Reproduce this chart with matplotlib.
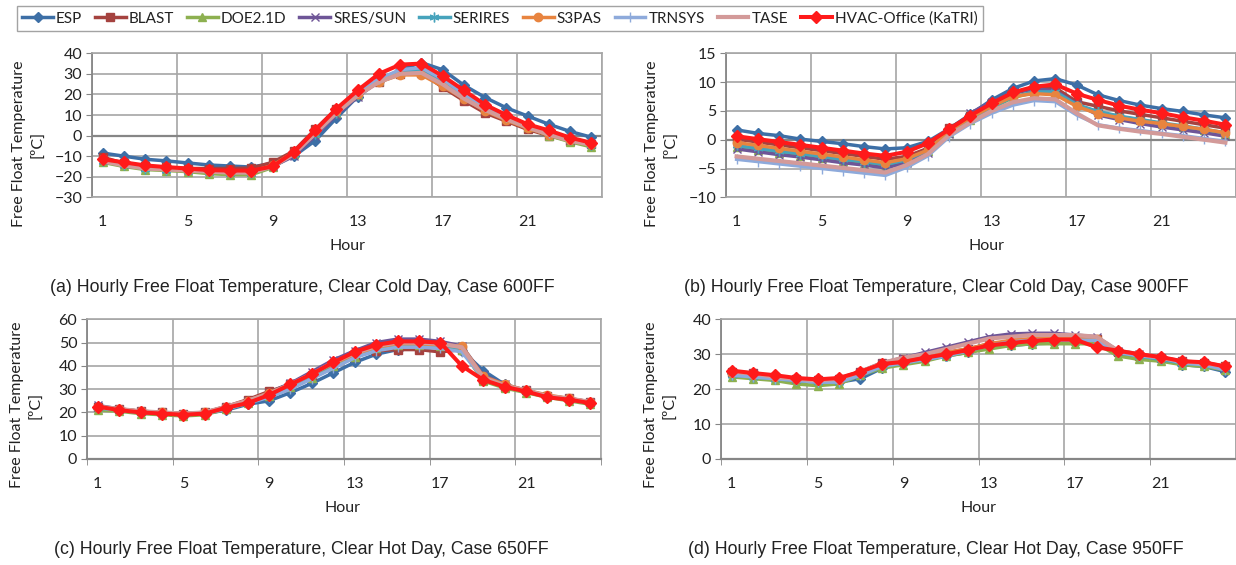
import matplotlib
matplotlib.use("Agg")
import matplotlib.pyplot as plt

plt.rcParams['font.family'] = ['Lato', 'DejaVu Sans']

hours = list(range(1, 25))
series_names = ["ESP", "BLAST", "DOE2.1D", "SRES/SUN", "SERIRES", "S3PAS",
                "TRNSYS", "TASE", "HVAC-Office (KaTRI)"]
xtick_labels = ["1", "5", "9", "13", "17", "21"]

# ---- Case 600FF (clear cold day) ----
a_esp = [-8.5, -10, -11.5, -12.3, -13.3, -14.3, -14.8, -15.3, -13.5, -10, -2.5, 8.5, 19, 26.5, 32, 35.5, 32, 24.5, 18.5, 13.5, 9.5, 5.5, 2, -0.8]
a_blast = [-10.5, -13.5, -15, -15.5, -16, -16, -16, -15.8, -13, -7.5, 3, 13, 20, 26, 30, 30.5, 23.5, 17, 11, 7, 3, 0, -2.5, -4]
a_doe = [-13, -15, -16.5, -17, -17.5, -18.5, -19, -19, -15.5, -9, 1.5, 11, 19.5, 26.5, 31, 33, 27, 20, 13.5, 8.5, 4, 0, -3, -5.5]
a_sres = [-12, -14, -15.5, -16, -16.5, -17, -17.5, -17.5, -15, -10, 0, 10, 19, 26.5, 31, 32, 27, 20, 13.5, 8.5, 4.5, 1, -2, -4]
a_serires = [-12.5, -14.5, -16, -16.5, -17, -17.5, -18, -18, -15, -9, 1, 11, 19.5, 26.5, 31, 32, 26.5, 19.5, 13, 8.5, 4.5, 1, -2, -4.5]
a_s3pas = [-11.5, -13.5, -15, -15.5, -16.5, -17, -17.5, -17.5, -14.5, -8, 2, 12, 20, 26, 29.5, 29.5, 24, 18, 12, 7.5, 3.5, 0.5, -2, -4]
a_trnsys = [-12, -14, -15.5, -16, -16.5, -17, -17.5, -17.5, -15, -8.5, 2, 12, 21, 27.5, 32, 33, 27.5, 20, 14, 9, 5, 1.5, -1.5, -3.5]
a_tase = [-12.5, -14.5, -16, -16.5, -17, -17.5, -18, -18, -15, -9, 1, 11, 19.5, 26, 30, 30.5, 25, 18, 12.5, 8, 4, 0.5, -2.5, -4.5]
a_hvac = [-11.5, -13, -14.5, -15.3, -16, -16.8, -17, -17, -15, -8, 2.5, 13, 22, 30, 34.5, 35, 29, 22, 15, 10, 5.5, 2.5, -1, -3.5]

# ---- Case 900FF (clear cold day) ----
b_esp = [1.7, 1.1, 0.7, 0.1, -0.3, -0.7, -1.2, -1.6, -1.4, -0.3, 1.9, 4.4, 6.9, 8.9, 10.2, 10.6, 9.5, 7.8, 6.8, 6.0, 5.4, 4.9, 4.3, 3.8]
b_blast = [0.1, -0.4, -0.9, -1.4, -1.9, -2.4, -2.9, -3.4, -2.9, -1.5, 2.0, 4.1, 6.3, 8.0, 8.9, 9.0, 6.6, 5.8, 5.0, 4.4, 3.8, 3.2, 2.6, 2.0]
b_doe = [-1.3, -1.8, -2.3, -2.8, -3.2, -3.7, -4.2, -4.7, -3.8, -2.0, 1.2, 3.5, 5.5, 7.3, 8.2, 8.2, 6.0, 4.8, 4.0, 3.4, 2.8, 2.2, 1.7, 1.0]
b_sres = [-1.6, -2.1, -2.6, -3.0, -3.5, -4.0, -4.4, -4.9, -4.0, -2.3, 1.0, 4.6, 6.6, 8.2, 8.8, 8.5, 6.2, 4.3, 3.5, 2.8, 2.2, 1.7, 1.2, 0.6]
b_serires = [-1.0, -1.5, -2.0, -2.4, -2.9, -3.4, -3.8, -4.3, -3.5, -1.8, 1.4, 3.6, 5.6, 7.4, 8.3, 8.3, 6.1, 4.9, 4.1, 3.5, 2.9, 2.4, 1.8, 1.2]
b_s3pas = [-0.5, -1.0, -1.5, -2.0, -2.5, -3.0, -3.5, -4.0, -3.3, -1.8, 1.5, 3.8, 5.8, 7.5, 8.0, 7.8, 5.8, 4.5, 3.8, 3.2, 2.8, 2.3, 1.8, 1.2]
b_trnsys = [-3.4, -3.8, -4.2, -4.6, -5.0, -5.4, -5.8, -6.2, -4.8, -2.8, 0.5, 2.8, 4.6, 6.0, 6.8, 6.6, 4.3, 2.6, 2.0, 1.6, 1.1, 0.7, 0.2, -0.3]
b_tase = [-2.9, -3.3, -3.7, -4.1, -4.5, -4.9, -5.3, -5.7, -4.4, -2.5, 0.8, 3.0, 5.0, 6.5, 7.2, 7.0, 4.6, 2.5, 1.9, 1.4, 1.0, 0.5, 0.0, -0.5]
b_hvac = [0.6, 0.1, -0.4, -0.9, -1.4, -1.9, -2.4, -2.8, -2.1, -0.6, 1.8, 4.2, 6.3, 8.2, 9.2, 9.6, 8.0, 6.9, 5.9, 5.2, 4.6, 3.9, 3.3, 2.6]

# ---- Case 650FF (clear hot day) ----
c_esp = [22, 21, 20, 19.5, 19, 19.5, 21, 23.5, 25, 28.5, 32.5, 37, 41.5, 45, 47, 48, 48, 46.5, 38, 32, 29, 27, 25.5, 24]
c_blast = [22.5, 21.5, 20.5, 20, 19.5, 20, 22.5, 25.5, 29, 32, 36, 40.5, 44, 46.5, 47, 47, 46, 47, 34, 31, 29.5, 27, 26, 24.5]
c_doe = [21, 20.5, 19.5, 19, 18.5, 19, 21.5, 24, 27, 31, 35, 40, 44, 47.5, 49, 49, 48.5, 47, 33.5, 30.5, 28.5, 26.5, 25, 23.5]
c_sres = [23, 21.5, 20.5, 20, 19.5, 20, 22.5, 25, 28.5, 32.5, 37.5, 42.5, 46.5, 50, 51.5, 51.5, 50.5, 48.5, 36, 32, 29.5, 27, 26, 24.5]
c_serires = [22, 21, 20, 19.5, 19, 19.5, 22, 24.5, 27.5, 31.5, 36, 41, 45, 48, 49.5, 49.5, 49, 47.5, 35, 31.5, 29, 27, 25.5, 24]
c_s3pas = [22.5, 21.5, 20.5, 20, 19.5, 20, 22.5, 25, 28.5, 32, 36.5, 41, 45, 48, 49.5, 49.5, 49, 48.5, 35.5, 32, 29.5, 27.5, 26, 24.5]
c_trnsys = [22, 21, 20, 19.5, 19, 19.5, 21.5, 24, 26.5, 30, 34.5, 39, 43.5, 46.5, 48, 48, 47.5, 46, 34.5, 31, 29, 27, 25.5, 24]
c_tase = [22.5, 21.5, 20.5, 20, 19.5, 20, 22.5, 25, 28, 32, 36.5, 41.5, 45.5, 48.5, 50, 50, 49.5, 48, 35, 31.5, 29.5, 27, 26, 24.5]
c_hvac = [22.5, 21, 20, 19.5, 19, 19.5, 22, 24, 27.5, 32, 36.5, 41.5, 46, 49, 50.5, 50.5, 50, 40, 34, 31, 29, 26.5, 25.5, 24]

# ---- Case 950FF (clear hot day) ----
d_esp = [24.5, 24, 23, 22.5, 22, 22, 23, 26, 27.5, 28.5, 29.5, 30.5, 32, 32.5, 33, 33.2, 33.2, 33, 30, 29, 28.5, 27, 26.5, 25]
d_blast = [25, 24.5, 23.5, 23, 22.5, 23, 25, 27.5, 28.5, 29.5, 30.5, 31.5, 33, 33.5, 34, 34, 34, 34.5, 30.5, 29.5, 29, 28, 27.5, 26.5]
d_doe = [23.5, 23, 22.5, 21.5, 21, 21.5, 24, 26, 27, 28, 29.5, 30.5, 31.5, 32.5, 33, 33, 33, 33, 29.5, 28.5, 28, 27, 26.5, 25.5]
d_sres = [25, 24.5, 23.5, 23, 22.5, 23, 25, 27.5, 29, 30.5, 32, 33.5, 35, 35.8, 36, 36, 35.5, 35, 31, 30, 29, 28, 27.5, 26]
d_serires = [24, 23.5, 23, 22.5, 22, 22, 24, 26.5, 27.5, 28.5, 29.5, 31, 32.5, 33.5, 34, 34, 34, 34, 30.5, 29.5, 28.5, 27.5, 27, 26]
d_s3pas = [24.5, 24, 23.5, 23, 22.5, 22.5, 24.5, 27, 28, 29, 30.5, 31.5, 33, 34, 34.5, 34.5, 34.5, 34.5, 31, 30, 29, 28, 27.5, 26.5]
d_trnsys = [24, 23.5, 23, 22.5, 22, 22, 24, 26.5, 27.5, 28.5, 29.5, 31, 32.5, 33.5, 34, 34, 34, 34, 30.5, 29.5, 29, 27.5, 27, 25.5]
d_tase = [25, 24.5, 23.5, 23, 22.5, 23, 25, 27.5, 29, 30, 31.5, 33, 34.5, 35, 35.5, 35.5, 35.5, 35, 31, 30, 29, 28, 27.5, 26.5]
d_hvac = [25.3, 24.6, 24, 23.2, 22.8, 23.2, 25, 27.2, 27.8, 29, 30, 31.2, 32.5, 33.2, 33.8, 34.2, 34.2, 32, 31, 30, 29.2, 28, 27.7, 26.5]

panels = [
    dict(data=[a_esp, a_blast, a_doe, a_sres, a_serires, a_s3pas, a_trnsys, a_tase, a_hvac],
         ylim=(-30, 40), ystep=10,
         caption="(a) Hourly Free Float Temperature, Clear Cold Day, Case 600FF"),
    dict(data=[b_esp, b_blast, b_doe, b_sres, b_serires, b_s3pas, b_trnsys, b_tase, b_hvac],
         ylim=(-10, 15), ystep=5,
         caption="(b) Hourly Free Float Temperature, Clear Cold Day, Case 900FF"),
    dict(data=[c_esp, c_blast, c_doe, c_sres, c_serires, c_s3pas, c_trnsys, c_tase, c_hvac],
         ylim=(0, 60), ystep=10,
         caption="(c) Hourly Free Float Temperature, Clear Hot Day, Case 650FF"),
    dict(data=[d_esp, d_blast, d_doe, d_sres, d_serires, d_s3pas, d_trnsys, d_tase, d_hvac],
         ylim=(0, 40), ystep=10,
         caption="(d) Hourly Free Float Temperature, Clear Hot Day, Case 950FF"),
]

styles = [
    dict(color='#3D6FA6', marker='D', ms=5.5, lw=2.5),
    dict(color='#A5423F', marker='s', ms=5.5, lw=2.5),
    dict(color='#8DB050', marker='^', ms=6, lw=2.5),
    dict(color='#6E5597', marker='x', ms=6, lw=2.5, mew=1.0),
    dict(color='#46A3BC', marker=(6, 2, 0), ms=7, lw=2.5, mew=1.0),
    dict(color='#E8843F', marker='o', ms=6, lw=2.5),
    dict(color='#8EAADB', marker='|', ms=7, lw=2.5, mew=1.0),
    dict(color='#D39A99', marker=None, ms=0, lw=3.0),
    dict(color='#FF1A1A', marker='D', ms=6.5, lw=2.9),
]

W, H = 1236, 565
fig = plt.figure(figsize=(W / 100, H / 100), dpi=100)

# axes boxes in pixels: (left, right, top, bottom)
boxes = [(92, 602, 53.3, 197.3), (726, 1236, 53.3, 197.3),
         (87, 601, 319.3, 459), (721, 1236, 319.3, 459)]
ylabel_pos = [(28, 144), (661, 144), (26, 405), (660, 405)]
hour_pos = [(347, 246), (987, 246), (342, 508), (978, 508)]
caption_pos = [(302, 288), (936, 288), (301, 549), (936, 549)]

grid_col = '#A6A6A6'
axis_col = '#868686'

handles = []
for i, (p, box) in enumerate(zip(panels, boxes)):
    l, r, t, b = box
    ax = fig.add_axes([l / W, 1 - b / H, (r - l) / W, (b - t) / H])
    for j, (ser, st) in enumerate(zip(p['data'], styles)):
        ln, = ax.plot(hours, ser, color=st['color'], lw=st['lw'],
                      marker=st['marker'], ms=st['ms'],
                      mew=st.get('mew', 1.0), mec=st['color'], mfc=st['color'],
                      zorder=3 + j, clip_on=False, solid_joinstyle='round')
        if i == 0:
            handles.append(ln)
    ax.set_xlim(0.5, 24.5)
    y0, y1 = p['ylim']
    ax.set_ylim(y0, y1)
    ax.set_yticks(list(range(y0, y1 + 1, p['ystep'])))
    ax.set_xticks([1, 5, 9, 13, 17, 21])
    ax.set_xticklabels(xtick_labels)
    ax.set_xticks([0.5 + 4 * k for k in range(7)], minor=True)
    ax.tick_params(axis='x', which='major', length=0, pad=13, labelsize=11.5, colors='#222222')
    ax.tick_params(axis='x', which='minor', length=4, direction='out', color=axis_col)
    ax.tick_params(axis='y', which='major', length=4, direction='out', color=axis_col,
                   labelsize=11.5, labelcolor='#222222', pad=3)
    ax.grid(True, axis='x', which='minor', color=grid_col, lw=1.2)
    ax.grid(True, axis='y', which='major', color=grid_col, lw=1.2)
    ax.set_axisbelow(True)
    for s in ['top', 'right']:
        ax.spines[s].set_color(grid_col)
        ax.spines[s].set_linewidth(1.2)
    ax.spines['left'].set_color(axis_col)
    ax.spines['left'].set_linewidth(1.3)
    if y0 < 0:
        ax.spines['bottom'].set_color(grid_col)
        ax.spines['bottom'].set_linewidth(1.2)
        ax.axhline(0, color=axis_col, lw=1.6, zorder=1)
        ax.tick_params(axis='x', which='minor', length=0)
    else:
        ax.spines['bottom'].set_color(axis_col)
        ax.spines['bottom'].set_linewidth(1.6)

    lx, ly = ylabel_pos[i]
    fig.text(lx / W, 1 - ly / H, "Free Float Temperature\n[ºC]", rotation=90,
             ha='center', va='center', fontsize=11.5, color='#222222', linespacing=1.4,
             multialignment='center')
    hx, hy = hour_pos[i]
    fig.text(hx / W, 1 - hy / H, "Hour", ha='center', va='center', fontsize=11.5, color='#222222')
    cx, cy = caption_pos[i]
    fig.text(cx / W, 1 - cy / H, p['caption'], ha='center', va='center', fontsize=12.8,
             color='#222222', family=['Liberation Sans Narrow', 'Liberation Sans', 'DejaVu Sans'])

leg = fig.legend(handles, series_names, loc='upper left', bbox_to_anchor=(17 / W, 1 - 6 / H),
                 ncol=9, fontsize=11, frameon=True, fancybox=False, handlelength=2.0,
                 handletextpad=0.2, columnspacing=0.85, borderpad=0.35, borderaxespad=0)
leg.get_frame().set_edgecolor('#8C8C8C')
leg.get_frame().set_linewidth(1.0)
for t in leg.get_texts():
    t.set_color('#222222')

fig.savefig("out.png", dpi=100)
